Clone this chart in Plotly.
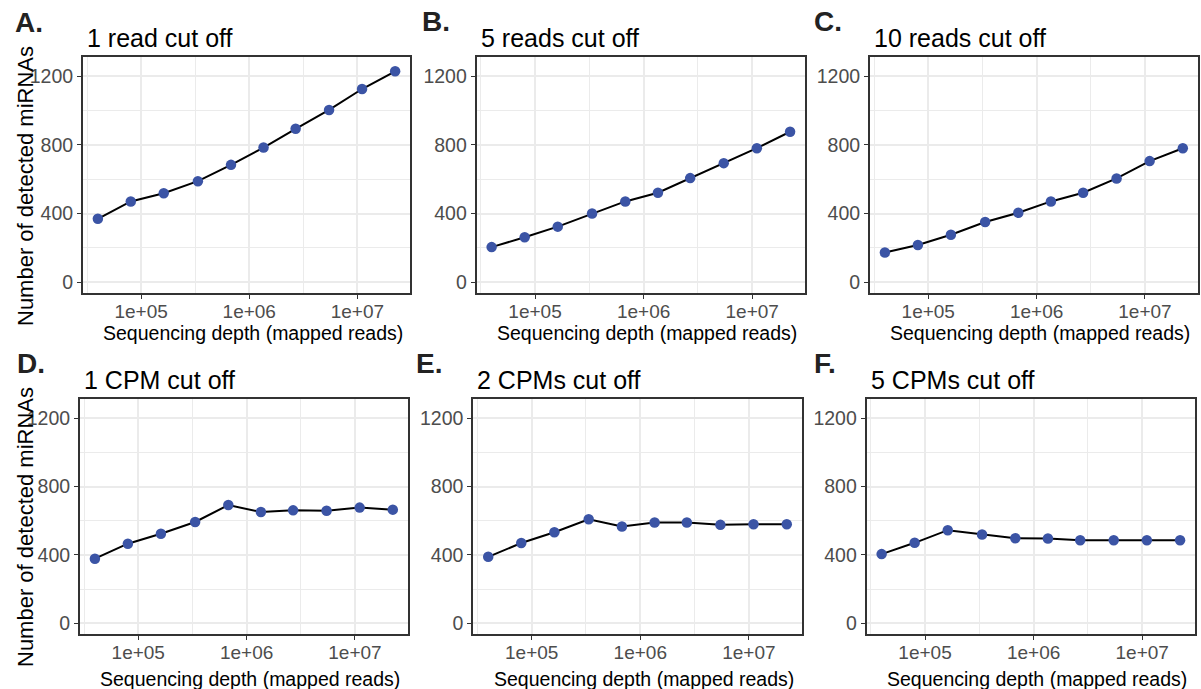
import plotly.graph_objects as go
import numpy as np

# ---------------- data ----------------
depth = [39800, 80200, 161800, 335000, 678000, 1355000, 2685000, 5470000, 11040000, 22340000]

reads_1 = [370, 471, 519, 589, 684, 785, 894, 1004, 1126, 1229]
reads_5 = [205, 262, 324, 401, 471, 522, 607, 694, 781, 877]
reads_10 = [173, 217, 277, 351, 405, 471, 522, 605, 706, 781]
cpm_1 = [378, 466, 524, 593, 692, 651, 661, 659, 677, 665]
cpm_2 = [389, 470, 533, 609, 566, 590, 590, 576, 580, 580]
cpm_5 = [405, 471, 545, 520, 498, 496, 486, 486, 486, 486]

panel_titles = ["1 read cut off", "5 reads cut off", "10 reads cut off",
                "1 CPM cut off", "2 CPMs cut off", "5 CPMs cut off"]
panel_letters = ["A.", "B.", "C.", "D.", "E.", "F."]
x_tick_vals = [1e5, 1e6, 1e7]
x_tick_text = ["1e+05", "1e+06", "1e+07"]
x_minor_vals = [10 ** 4.5, 10 ** 5.5, 10 ** 6.5]
y_tick_vals = [0, 400, 800, 1200]
y_minor_vals = [200, 600, 1000]
y_limits = [0, 1250]
x_title = "Sequencing depth (mapped reads)"
y_title = "Number of detected miRNAs"

series = [reads_1, reads_5, reads_10, cpm_1, cpm_2, cpm_5]

# ---------------- layout constants ----------------
W, H = 1201, 689
FONT = "Liberation Sans, Arial, Helvetica, sans-serif"
boxes = [  # left, top, right, bottom (pixels)
    (83, 57, 410, 293), (476.7, 57, 805, 293), (870, 57, 1197.7, 293),
    (80, 399, 407.7, 634), (473.3, 399, 801.7, 634), (866.7, 399, 1195, 634),
]
letter_pos = [(13, 22), (420, 21), (811.7, 21), (15, 363), (414, 363), (811.7, 363)]

def px(x):
    return x / W

def py(y):
    return 1 - y / H

# axis ranges: ggplot-like 5% expansion
lx = np.log10(depth)
span = lx.max() - lx.min()
x_range = [lx.min() - 0.05 * span, lx.max() + 0.05 * span]
yspan = y_limits[1] - y_limits[0]
y_range = [y_limits[0] - 0.05 * yspan, y_limits[1] + 0.05 * yspan]

fig = go.Figure()
annotations = []
layout_axes = {}

for i, (vals, box) in enumerate(zip(series, boxes)):
    n = i + 1
    xa = "x" if n == 1 else f"x{n}"
    ya = "y" if n == 1 else f"y{n}"
    fig.add_trace(go.Scatter(
        x=depth, y=vals, mode="lines+markers",
        line=dict(color="black", width=2),
        marker=dict(color="#3b54a5", size=10.5),
        xaxis=xa, yaxis=ya, showlegend=False, hoverinfo="x+y",
    ))
    l, t, r, b = box
    common = dict(
        showline=True, mirror=True, linecolor="#333333", linewidth=2,
        ticks="outside", ticklen=4, tickwidth=1.3, tickcolor="#333333",
        showgrid=True, gridcolor="#ebebeb", gridwidth=2, zeroline=False,
        tickfont=dict(family=FONT, size=19.5, color="#4d4d4d"),
        automargin=False, fixedrange=True,
    )
    layout_axes["xaxis" if n == 1 else f"xaxis{n}"] = dict(
        common, type="log", range=x_range, domain=[px(l), px(r)],
        anchor=ya, tickvals=x_tick_vals, ticktext=x_tick_text,
        ticklabelstandoff=-4,
        tickfont=dict(family=FONT, size=19, color="#4d4d4d"),
        minor=dict(tickvals=x_minor_vals, showgrid=True, gridcolor="#ebebeb",
                   gridwidth=1, ticks=""),
    )
    layout_axes["yaxis" if n == 1 else f"yaxis{n}"] = dict(
        common, range=y_range, domain=[py(b), py(t)], anchor=xa,
        tickvals=y_tick_vals, ticktext=[str(v) for v in y_tick_vals],
        minor=dict(tickvals=y_minor_vals, showgrid=True, gridcolor="#ebebeb",
                   gridwidth=1, ticks=""),
    )
    # panel title
    annotations.append(dict(
        text=panel_titles[i], x=px(l + 2), y=py(t - 19), xref="paper", yref="paper",
        xanchor="left", yanchor="middle", showarrow=False,
        font=dict(family=FONT, size=25, color="black"),
    ))
    # panel letter
    lxp, lyp = letter_pos[i]
    annotations.append(dict(
        text=f"<b>{panel_letters[i]}</b>", x=px(lxp), y=py(lyp), xref="paper", yref="paper",
        xanchor="left", yanchor="middle", showarrow=False,
        font=dict(family=FONT, size=28, color="#222222"),
    ))
    # x axis title
    annotations.append(dict(
        text=x_title, x=px((l + r) / 2 + 6), y=py(b + 40 if n <= 3 else b + 45),
        xref="paper", yref="paper", xanchor="center", yanchor="middle", showarrow=False,
        font=dict(family=FONT, size=19.5, color="black"),
    ))

# y axis titles (one per row, left column)
for yc in (186, 527):
    annotations.append(dict(
        text=y_title, x=px(25), y=py(yc), xref="paper", yref="paper",
        xanchor="center", yanchor="middle", textangle=-90, showarrow=False,
        font=dict(family=FONT, size=22, color="black"),
    ))

fig.update_layout(
    width=W, height=H, margin=dict(l=0, r=0, t=0, b=0),
    paper_bgcolor="white", plot_bgcolor="white",
    annotations=annotations, **layout_axes,
)

fig.write_html("out.html")
